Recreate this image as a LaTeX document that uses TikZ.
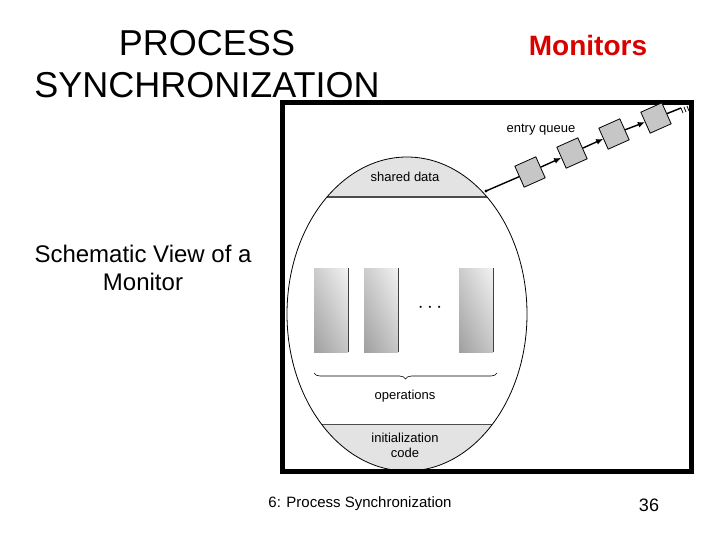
\documentclass[tikz,border=0pt]{standalone}
\usepackage{fontspec}
\setmainfont{Liberation Sans}
\usetikzlibrary{decorations.pathreplacing,arrows.meta,shadings}
\begin{document}
\begin{tikzpicture}[x=1pt,y=-1pt,
  qbox/.style={draw=black,fill=gray!45,minimum size=23pt,inner sep=0pt,rotate=24,line width=0.8pt},
  qarrow/.style={-{Latex[length=7pt,width=6pt]},line width=1.4pt},
  band/.style={fill=gray!22},
  lbl/.style={font=\fontsize{13}{15}\selectfont}]
\useasboundingbox (0,0) rectangle (720,540);
\node[font=\fontsize{36}{42}\selectfont,align=center] (title) at (207,64) {PROCESS\\SYNCHRONIZATION};
\node[font=\fontsize{28}{32}\selectfont\bfseries,text=red!85!black] (mon) at (588,45) {Monitors};
\node[font=\fontsize{24}{28}\selectfont,align=center] (sv) at (143,268) {Schematic View of a\\Monitor};
\node[font=\fontsize{15}{17}\selectfont] (foot) at (360,504) {6: Process Synchronization};
\node[font=\fontsize{18}{20}\selectfont] (num) at (649,505) {36};
% frame
\begin{scope}
\clip (282,103) rectangle (691,471);
\begin{scope}
\clip (407,314) ellipse [x radius=120, y radius=157];
\fill[band] (280,150) rectangle (540,197);
\fill[band] (280,424) rectangle (540,480);
\draw[line width=1.2pt,gray!60!black] (280,197) -- (540,197);
\draw[line width=0.8pt,gray!60!black] (280,424) -- (540,424);
\end{scope}
\draw[line width=0.8pt] (407,314) ellipse [x radius=120, y radius=157];
\end{scope}
\draw[line width=5pt] (282,103) rectangle (691,471);
\node[lbl] (sd) at (405,177) {shared data};
\node[lbl,align=center] (ic) at (405,445) {initialization\\code};
\node[lbl] (ops) at (405,396) {operations};
\foreach \x in {314,364,459}{
  \shade[upper right=gray!10,lower right=gray!45,upper left=gray!40,lower left=gray!75] (\x,268) rectangle ++(34,84);
  \draw[gray!50!black,line width=0.6pt] (\x+34,268) -- (\x+34,352);
}
\node[font=\fontsize{22}{22}\selectfont] (dots) at (430,308) {$\cdots$};
\draw[decorate,decoration={brace,amplitude=6pt,mirror},line width=0.6pt] (314,373) -- (497,373);
% queue
\coordinate (e) at (486,191);
\fill (e) circle (1.6pt);
\node[qbox] (q1) at (530,172) {};
\node[qbox] (q2) at (572,153) {};
\node[qbox] (q3) at (614,134) {};
\node[qbox] (q4) at (656,118) {};
\draw[line width=1.4pt] (e) -- (q1);
\draw[qarrow] (q1) -- (q2);
\draw[qarrow] (q2) -- (q3);
\draw[qarrow] (q3) -- (q4);
\coordinate (qe) at (681,108);
\draw[line width=1.4pt] (q4) -- (qe);
\draw[line width=0.8pt] (qe) -- ++(2,5) (684,107) -- ++(2,5) (687,106) -- ++(2,5);
\node[lbl] (eq) at (541,130) {entry queue};
\end{tikzpicture}
\end{document}
